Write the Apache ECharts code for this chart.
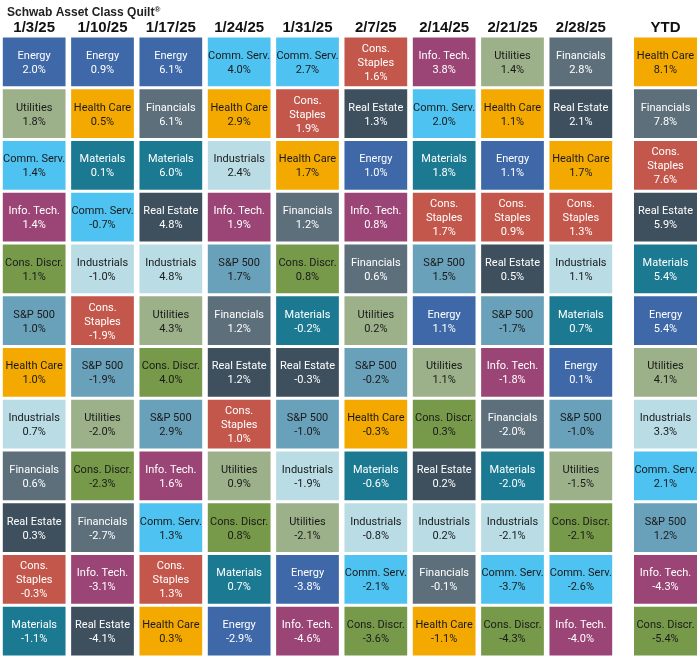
<!DOCTYPE html>
<html>
<head>
<meta charset="utf-8">
<script src="https://cdn.jsdelivr.net/npm/echarts@6/dist/echarts.min.js"></script>
<style>html,body{margin:0;padding:0;background:#fff}#c{width:700px;height:658px}</style>
</head>
<body>
<div id="c"></div>
<script>
// ---- Data ----
const weekDates = ['1/3/25','1/10/25','1/17/25','1/24/25','1/31/25','2/7/25','2/14/25','2/21/25','2/28/25'];
const ytdLabel = ['YTD'];
const ranks = [1,2,3,4,5,6,7,8,9,10,11,12];

const sectors_0103 = ['Energy','Utilities','Comm. Serv.','Info. Tech.','Cons. Discr.','S&P 500','Health Care','Industrials','Financials','Real Estate','Cons. Staples','Materials'];
const values_0103  = [2.0,1.8,1.4,1.4,1.1,1.0,1.0,0.7,0.6,0.3,-0.3,-1.1];

const sectors_0110 = ['Energy','Health Care','Materials','Comm. Serv.','Industrials','Cons. Staples','S&P 500','Utilities','Cons. Discr.','Financials','Info. Tech.','Real Estate'];
const values_0110  = [0.9,0.5,0.1,-0.7,-1.0,-1.9,-1.9,-2.0,-2.3,-2.7,-3.1,-4.1];

const sectors_0117 = ['Energy','Financials','Materials','Real Estate','Industrials','Utilities','Cons. Discr.','S&P 500','Info. Tech.','Comm. Serv.','Cons. Staples','Health Care'];
const values_0117  = [6.1,6.1,6.0,4.8,4.8,4.3,4.0,2.9,1.6,1.3,1.3,0.3];

const sectors_0124 = ['Comm. Serv.','Health Care','Industrials','Info. Tech.','S&P 500','Financials','Real Estate','Cons. Staples','Utilities','Cons. Discr.','Materials','Energy'];
const values_0124  = [4.0,2.9,2.4,1.9,1.7,1.2,1.2,1.0,0.9,0.8,0.7,-2.9];

const sectors_0131 = ['Comm. Serv.','Cons. Staples','Health Care','Financials','Cons. Discr.','Materials','Real Estate','S&P 500','Industrials','Utilities','Energy','Info. Tech.'];
const values_0131  = [2.7,1.9,1.7,1.2,0.8,-0.2,-0.3,-1.0,-1.9,-2.1,-3.8,-4.6];

const sectors_0207 = ['Cons. Staples','Real Estate','Energy','Info. Tech.','Financials','Utilities','S&P 500','Health Care','Materials','Industrials','Comm. Serv.','Cons. Discr.'];
const values_0207  = [1.6,1.3,1.0,0.8,0.6,0.2,-0.2,-0.3,-0.6,-0.8,-2.1,-3.6];

const sectors_0214 = ['Info. Tech.','Comm. Serv.','Materials','Cons. Staples','S&P 500','Energy','Utilities','Cons. Discr.','Real Estate','Industrials','Financials','Health Care'];
const values_0214  = [3.8,2.0,1.8,1.7,1.5,1.1,1.1,0.3,0.2,0.2,-0.1,-1.1];

const sectors_0221 = ['Utilities','Health Care','Energy','Cons. Staples','Real Estate','S&P 500','Info. Tech.','Financials','Materials','Industrials','Comm. Serv.','Cons. Discr.'];
const values_0221  = [1.4,1.1,1.1,0.9,0.5,-1.7,-1.8,-2.0,-2.0,-2.1,-3.7,-4.3];

const sectors_0228 = ['Financials','Real Estate','Health Care','Cons. Staples','Industrials','Materials','Energy','S&P 500','Utilities','Cons. Discr.','Comm. Serv.','Info. Tech.'];
const values_0228  = [2.8,2.1,1.7,1.3,1.1,0.7,0.1,-1.0,-1.5,-2.1,-2.6,-4.0];

const sectors_ytd = ['Health Care','Financials','Cons. Staples','Real Estate','Materials','Energy','Utilities','Industrials','Comm. Serv.','S&P 500','Info. Tech.','Cons. Discr.'];
const values_ytd  = [8.1,7.8,7.6,5.9,5.4,5.4,4.1,3.3,2.1,1.2,-4.3,-5.4];

// ---- Styles ----
const sectorColors = {
  'Energy':        ['#3e68a8', '#ffffff'],
  'Utilities':     ['#9cb08a', '#1a1a1a'],
  'Comm. Serv.':   ['#4ec3f1', '#1a1a1a'],
  'Info. Tech.':   ['#9b4577', '#ffffff'],
  'Cons. Discr.':  ['#77994a', '#1a1a1a'],
  'S&P 500':       ['#6aa1ba', '#1a1a1a'],
  'Health Care':   ['#f4a900', '#1a1a1a'],
  'Industrials':   ['#b9dce5', '#1a1a1a'],
  'Financials':    ['#5e6f7c', '#ffffff'],
  'Real Estate':   ['#3e4f5d', '#ffffff'],
  'Cons. Staples': ['#c4574b', '#ffffff'],
  'Materials':     ['#1b7a92', '#ffffff']
};
const labelText = { 'Cons. Staples': 'Cons.\nStaples' };

const weeklySectors = [sectors_0103,sectors_0110,sectors_0117,sectors_0124,sectors_0131,sectors_0207,sectors_0214,sectors_0221,sectors_0228];
const weeklyValues  = [values_0103,values_0110,values_0117,values_0124,values_0131,values_0207,values_0214,values_0221,values_0228];

const weeklyData = [];
weeklySectors.forEach((col, ci) => col.forEach((s, ri) => weeklyData.push([ci, ri, s, weeklyValues[ci][ri]])));
const ytdData = sectors_ytd.map((s, ri) => [0, ri, s, values_ytd[ri]]);

function fmt(v) { return v.toFixed(1) + '%'; }

function makeRender(gapX, gapY) {
  return function (params, api) {
    const c = api.coord([api.value(0), api.value(1)]);
    const sz = api.size([1, 1]);
    const w = sz[0] - gapX, h = sz[1] - gapY;
    const idx = params.dataIndex;
    const d = params.seriesIndex === 0 ? weeklyData[idx] : ytdData[idx];
    const sector = d[2];
    const col = sectorColors[sector];
    const txt = (labelText[sector] || sector) + '\n' + fmt(d[3]);
    return {
      type: 'group',
      children: [
        { type: 'rect', shape: { x: c[0] - w / 2, y: c[1] - h / 2, width: w, height: h },
          style: { fill: col[0] } },
        { type: 'text', x: c[0], y: c[1] + 1.2,
          style: { text: txt, align: 'center', verticalAlign: 'middle', fill: col[1],
                   fontFamily: 'Roboto', fontSize: 11, lineHeight: 14 } }
      ]
    };
  };
}

const chart = echarts.init(document.getElementById('c'), null, { renderer: 'canvas' });
chart.setOption({
  animation: false,
  backgroundColor: '#ffffff',
  title: {
    left: 2, top: 0,
    text: '{a|Schwab Asset Class Quilt}{s|®}',
    textStyle: {
      rich: {
        a: { fontFamily: 'Liberation Sans', fontWeight: 'bold', fontSize: 12, color: '#222', lineHeight: 16 },
        s: { fontFamily: 'Liberation Sans', fontWeight: 'bold', fontSize: 8, color: '#222', padding: [0,0,6,0] }
      }
    }
  },
  grid: [
    { left: -2, top: 36, width: 617, height: 621 },
    { left: 631, top: 36, width: 71, height: 621 }
  ],
  xAxis: [0, 1].map(gi => ({
    type: 'category', gridIndex: gi, position: 'top',
    data: gi === 0 ? weekDates : ytdLabel,
    axisLine: { show: false }, axisTick: { show: false }, splitLine: { show: false },
    axisLabel: { color: '#111', fontFamily: 'Liberation Sans', fontWeight: 'bold', fontSize: 15, margin: 1 }
  })),
  yAxis: [0, 1].map(gi => ({
    type: 'category', gridIndex: gi, inverse: true, data: ranks, show: false
  })),
  series: [
    { type: 'custom', xAxisIndex: 0, yAxisIndex: 0, data: weeklyData.map(d => [d[0], d[1]]),
      renderItem: makeRender(5.6, 3.2) },
    { type: 'custom', xAxisIndex: 1, yAxisIndex: 1, data: ytdData.map(d => [d[0], d[1]]),
      renderItem: makeRender(6, 3.2) }
  ]
});
</script>
</body>
</html>
